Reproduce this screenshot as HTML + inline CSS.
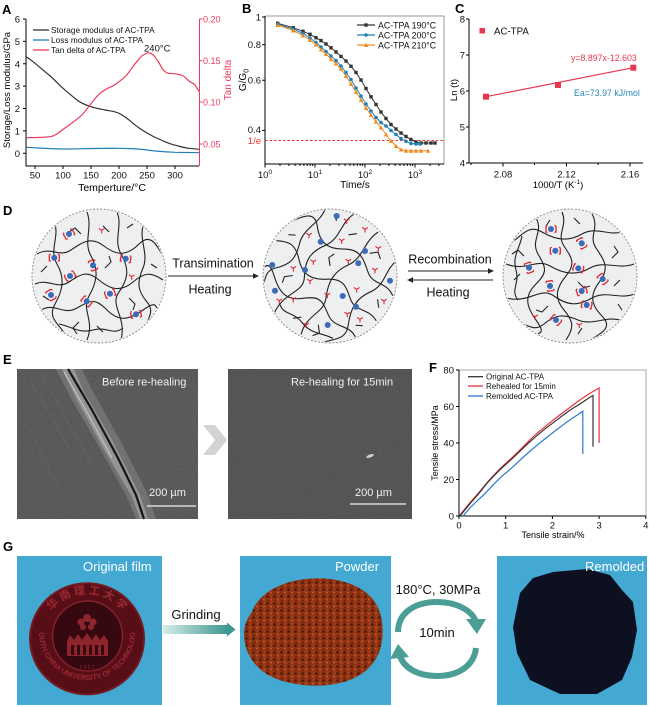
<!DOCTYPE html>
<html><head><meta charset="utf-8"><style>
html,body{margin:0;padding:0;background:#fff;}
svg{display:block;font-family:"Liberation Sans","Noto Sans CJK SC",sans-serif;}
</style></head><body>
<svg width="649" height="707" viewBox="0 0 649 707" xmlns="http://www.w3.org/2000/svg">
<defs>
<marker id="mk" markerWidth="4" markerHeight="4" refX="2" refY="2" markerUnits="userSpaceOnUse"><rect x="0.3" y="0.3" width="3.4" height="3.4" fill="#333"/></marker>
<marker id="mb" markerWidth="4" markerHeight="4" refX="2" refY="2" markerUnits="userSpaceOnUse"><circle cx="2" cy="2" r="1.8" fill="#1f7fb5"/></marker>
<marker id="mo" markerWidth="5" markerHeight="5" refX="2.5" refY="2.5" markerUnits="userSpaceOnUse"><path d="M2.5,0.3 L4.7,4.5 L0.3,4.5Z" fill="#f08a1e"/></marker>
<clipPath id="cc"><circle r="66"/></clipPath>
<filter id="sem" x="0" y="0" width="100%" height="100%"><feTurbulence type="fractalNoise" baseFrequency="0.75" numOctaves="3" seed="2"/><feColorMatrix type="matrix" values="0.33 0.33 0.33 0 0  0.33 0.33 0.33 0 0  0.33 0.33 0.33 0 0  0 0 0 0 1"/></filter>
<pattern id="dots" width="7" height="7" patternUnits="userSpaceOnUse"><rect width="7" height="7" fill="#8f3315"/><circle cx="1.5" cy="1.5" r="1.3" fill="#4a1709"/><circle cx="5" cy="4.5" r="1.1" fill="#c4521f"/><circle cx="2" cy="5.5" r="0.8" fill="#5a1d0b"/><circle cx="5.5" cy="1" r="0.7" fill="#b84a1c"/></pattern>
<linearGradient id="ga" x1="0" x2="1" y1="0" y2="0"><stop offset="0" stop-color="#d6ecea"/><stop offset="1" stop-color="#3d978f"/></linearGradient>
<g id="net" fill="none" stroke="#222" stroke-width="1.1">
<path d="M-62,-22 C-48,-30 -40,-18 -28,-26 S-8,-40 5,-30 S28,-20 40,-32 S58,-30 64,-20"/>
<path d="M-64,8 C-50,2 -42,14 -30,6 S-12,-6 0,4 S22,16 34,6 S52,-4 64,4"/>
<path d="M-58,34 C-44,26 -36,40 -22,32 S-4,22 8,34 S30,44 44,34 S56,30 60,36"/>
<path d="M-44,-52 C-40,-38 -50,-26 -42,-12 S-36,14 -44,28 S-40,48 -34,58"/>
<path d="M-12,-64 C-6,-48 -16,-34 -8,-20 S-2,6 -10,20 S-4,44 -12,64"/>
<path d="M18,-64 C24,-50 14,-36 22,-22 S30,2 20,16 S28,40 22,64"/>
<path d="M44,-50 C40,-36 50,-22 44,-8 S38,14 48,26 S44,44 50,52"/>
<path d="M-40,48 C-28,50 -20,58 -6,54 S14,60 24,52"/>
<path d="M-30,-44 L-24,-48 L-18,-42 M-52,-10 L-58,-4 M6,-8 L12,-14 L10,-20 M30,22 L36,28 L34,34 M-20,46 L-26,52 L-22,58 M52,-12 L58,-8 M-2,50 L4,56 M-56,20 L-50,24 M28,-48 L34,-52 M10,-44 L4,-50"/>
</g>
<g id="xl"><path d="M-5,-3 L-3.5,-3.5 M-5,-3 L-5,3 L-3.5,3.5 M5,-3 L3.5,-3.5 M5,-3 L5,3 L3.5,3.5" stroke="#e0262f" stroke-width="1.3" fill="none"/><circle r="3" fill="#3a6cb8"/></g>
<g id="ry" fill="none" stroke="#e0262f" stroke-width="1.1"><path d="M0,0 L0,3.2 M0,0 L-2.8,-1.8 M0,0 L2.8,-1.8"/></g>
</defs>
<rect width="649" height="707" fill="#fff"/>

<!-- ============ PANEL A ============ -->
<text x="2" y="14" font-size="13" font-weight="bold">A</text>
<g stroke="#000" stroke-width="1" fill="none">
<path d="M26,19 L26,166 L199,166"/>
<path d="M23,19 H26 M23,41.4 H26 M23,63.8 H26 M23,86.1 H26 M23,108.5 H26 M23,130.9 H26 M23,153.3 H26"/>
<path d="M35,166 V169 M63,166 V169 M91,166 V169 M119,166 V169 M147,166 V169 M175,166 V169"/>
</g>
<g stroke="#ec3a5e" stroke-width="1" fill="none"><path d="M199.5,19 V166"/><path d="M199.5,19 H202.5 M199.5,60.7 H202.5 M199.5,102 H202.5 M199.5,144 H202.5"/></g>
<g font-size="9.5" text-anchor="end" fill="#111">
<text x="20" y="22.5">6</text><text x="20" y="44.9">5</text><text x="20" y="67.3">4</text><text x="20" y="89.6">3</text><text x="20" y="112">2</text><text x="20" y="134.4">1</text><text x="20" y="156.8">0</text>
</g>
<g font-size="9" fill="#ec3a5e"><text x="203" y="22.5">0.20</text><text x="203" y="64.2">0.15</text><text x="203" y="105.5">0.10</text><text x="203" y="147.5">0.05</text></g>
<g font-size="9.5" text-anchor="middle" fill="#111"><text x="35" y="178.5">50</text><text x="63" y="178.5">100</text><text x="91" y="178.5">150</text><text x="119" y="178.5">200</text><text x="147" y="178.5">250</text><text x="175" y="178.5">300</text></g>
<text x="112" y="191" font-size="10.5" text-anchor="middle">Temperture/°C</text>
<text transform="translate(10,90) rotate(-90)" font-size="9.5" text-anchor="middle">Storage/Loss modulus/GPa</text>
<text transform="translate(231,80) rotate(-90)" font-size="10" text-anchor="middle" fill="#ec3a5e">Tan delta</text>
<g stroke-width="1.2" fill="none">
<path stroke="#333" d="M26,56.7 C30,59 32,61 35,63.3 S44,71 49,75 S58,84 63,88.3 S72,96 77,100 S86,105 91,106.7 S100,109 105,110 S114,111 119,113.3 S128,119 133,123.3 S142,130 147,133 S156,138 161,140 S170,144 175,145.2 S185,148 189,148.3 L199,149.3"/>
<path stroke="#1f7fb5" d="M26,147.3 C40,148 50,149 63,149 S105,148 119,148.3 S140,149 147,150 S168,152 175,152.3 L199,152.7"/>
<path stroke="#ec3a5e" d="M26,137.7 C36,137.5 44,137.5 50,136.7 S62,130 66.7,126.7 S76,120 80,116.7 S87,109 90,105 S97,96 100,93.3 S106,89 110,87.3 S116,84 119,81.7 S124,78 126.7,75 S133,66 136.7,61.7 S141,56 143.3,55 S147,52.5 148.3,52.7 S151,53 153.3,55 S156,59 158.3,61.7 S161,68 163.3,70 S166,73 168.3,73.3 S174,73.5 176.7,74 S181,75 183.3,76 S187,80 190,81.7 S194,84 195,85 L199.3,91.7"/>
</g>
<g stroke-width="1.3"><path d="M33,30 H49" stroke="#333"/><path d="M33,40 H49" stroke="#1f7fb5"/><path d="M33,50 H49" stroke="#ec3a5e"/></g>
<g font-size="8.3" fill="#111"><text x="51" y="33">Storage modulus of AC-TPA</text><text x="51" y="43">Loss modulus of AC-TPA</text><text x="51" y="53">Tan delta of AC-TPA</text></g>
<text x="144" y="51.5" font-size="9.5" fill="#111">240°C</text>

<!-- ============ PANEL B ============ -->
<text x="242" y="13" font-size="13" font-weight="bold">B</text>
<path d="M265,16 H444 V164" stroke="#999" stroke-width="1" fill="none"/>
<g stroke="#000" stroke-width="1" fill="none">
<path d="M265,16 V164 H444"/>
<path d="M262,17 H265 M262,44.6 H265 M262,80.2 H265 M262,130.4 H265"/>
<path d="M265,164 V167.5 M315,164 V167.5 M365,164 V167.5 M415,164 V167.5"/>
<path d="M280,164v2 M288.9,164v2 M295.1,164v2 M300,164v2 M303.9,164v2 M307.3,164v2 M310.2,164v2 M312.7,164v2 M330,164v2 M338.9,164v2 M345.1,164v2 M350,164v2 M353.9,164v2 M357.3,164v2 M360.2,164v2 M362.7,164v2 M380,164v2 M388.9,164v2 M395.1,164v2 M400,164v2 M403.9,164v2 M407.3,164v2 M410.2,164v2 M412.7,164v2 M430,164v2 M438.9,164v2"/>
</g>
<path d="M265,140.5 H444" stroke="#ee3030" stroke-width="1" stroke-dasharray="2.5,2" fill="none"/>
<g font-size="9.5" text-anchor="end" fill="#111"><text x="261" y="20.5">1</text><text x="261" y="48">0.8</text><text x="261" y="83.6">0.6</text><text x="261" y="133">0.4</text></g>
<text x="261" y="144" font-size="9.5" text-anchor="end" fill="#ee3030">1/e</text>
<g font-size="9.5" text-anchor="middle" fill="#111">
<text x="265" y="178">10<tspan font-size="6.5" dy="-4">0</tspan></text>
<text x="315" y="178">10<tspan font-size="6.5" dy="-4">1</tspan></text>
<text x="365" y="178">10<tspan font-size="6.5" dy="-4">2</tspan></text>
<text x="415" y="178">10<tspan font-size="6.5" dy="-4">3</tspan></text>
</g>
<text x="355" y="188" font-size="10" text-anchor="middle">Time/s</text>
<text transform="translate(246,80) rotate(-90)" font-size="10" text-anchor="middle">G/G<tspan font-size="7" dy="2.5">0</tspan></text>
<polyline fill="none" stroke="#333" stroke-width="1" marker-start="url(#mk)" marker-mid="url(#mk)" marker-end="url(#mk)" points="277.7,23.3 293.3,27.7 303,31.3 310,34.3 316,37.7 321,40.6 326,44 331,47.8 336,52 341,56.4 346,61 351,66.3 356,72.5 361,80 366,88.5 371,96.8 376,104.5 381,112 386,118.5 391,124.5 396,129 401,133 406,136.5 411,139.5 416,142 421,143 426,143 431,143 435,143"/>
<polyline fill="none" stroke="#1f7fb5" stroke-width="1" marker-start="url(#mb)" marker-mid="url(#mb)" marker-end="url(#mb)" points="277.7,24.3 293.3,29 303,33.5 310,38 316,42.5 321,47 326,51.5 331,56 336,60.5 341,66 346,72.5 351,79.5 356,88 361,96 366,104 371,111 376,117.5 381,122.5 386,126 391,130.5 396,134.5 401,138.5 406,141.3 411,143.5 416,144 420,144"/>
<polyline fill="none" stroke="#f08a1e" stroke-width="1" marker-start="url(#mo)" marker-mid="url(#mo)" marker-end="url(#mo)" points="277.7,25 293.3,30.5 303,35.5 310,40 316,44.5 321,49.5 326,54 331,59 336,63.5 341,69 346,76 351,84 356,92 361,100 366,108 371,115 376,121.5 381,127.5 386,134.5 391,141 396,146 401,149.5 406,150.7 411,150.7 416,150.7 421,150.7 428,150.7"/>
<g stroke-width="1.2"><path d="M357,25 H375" stroke="#333"/><path d="M357,35 H375" stroke="#1f7fb5"/><path d="M357,45 H375" stroke="#f08a1e"/></g>
<rect x="364.3" y="23.3" width="3.4" height="3.4" fill="#333"/><circle cx="366" cy="35" r="1.8" fill="#1f7fb5"/><path d="M366,42.8 L368.2,47 L363.8,47Z" fill="#f08a1e"/>
<g font-size="8.8" fill="#111"><text x="378" y="28.3">AC-TPA 190°C</text><text x="378" y="38.3">AC-TPA 200°C</text><text x="378" y="48.3">AC-TPA 210°C</text></g>

<!-- ============ PANEL C ============ -->
<text x="455" y="13" font-size="13" font-weight="bold">C</text>
<g stroke="#000" stroke-width="1" fill="none">
<path d="M469,19 V163 H643"/>
<path d="M466,19 H469 M466,55 H469 M466,91 H469 M466,127 H469 M466,163 H469"/>
<path d="M471,163 v2 M503,163 v3.5 M534.5,163 v2 M566.5,163 v3.5 M598,163 v2 M630,163 v3.5"/>
</g>
<g font-size="9.5" text-anchor="end" fill="#111"><text x="465" y="22.5">8</text><text x="465" y="58.5">7</text><text x="465" y="94.5">6</text><text x="465" y="130.5">5</text><text x="465" y="166.5">4</text></g>
<g font-size="9.5" text-anchor="middle" fill="#111"><text x="503" y="177.5">2.08</text><text x="566.5" y="177.5">2.12</text><text x="630" y="177.5">2.16</text></g>
<text x="558" y="188" font-size="9.5" text-anchor="middle">1000/T  (K<tspan font-size="6.5" dy="-4">-1</tspan><tspan dy="4">)</tspan></text>
<text transform="translate(457,90) rotate(-90)" font-size="9.5" text-anchor="middle">Ln (t)</text>
<path d="M486,96.7 L633.3,67.7" stroke="#e8384f" stroke-width="1.2"/>
<g fill="#e8384f"><rect x="483" y="93.7" width="6" height="6"/><rect x="555" y="82" width="6" height="6"/><rect x="630.3" y="64.7" width="6" height="6"/><rect x="479.5" y="28" width="5.5" height="5.5"/></g>
<text x="494" y="34.5" font-size="9.7" fill="#111">AC-TPA</text>
<text x="571" y="61" font-size="8.8" fill="#e8384f">y=8.897x-12.603</text>
<text x="574" y="96" font-size="8.8" fill="#2a86b8">Ea=73.97 kJ/mol</text>

<!-- ============ PANEL D ============ -->
<text x="3" y="215" font-size="13" font-weight="bold">D</text>
<g transform="translate(99,276)">
<circle r="67" fill="#eeeff1" stroke="#8a8a8a" stroke-width="0.9" stroke-dasharray="2,1.6"/>
<g clip-path="url(#cc)"><use href="#net"/></g>
</g>
<g transform="translate(330,276)">
<circle r="67" fill="#eeeff1" stroke="#8a8a8a" stroke-width="0.9" stroke-dasharray="2,1.6"/>
<g clip-path="url(#cc)"><g transform="rotate(37) scale(-1,1)"><use href="#net"/></g></g>
</g>
<g transform="translate(570,276)">
<circle r="67" fill="#eeeff1" stroke="#8a8a8a" stroke-width="0.9" stroke-dasharray="2,1.6"/>
<g clip-path="url(#cc)"><g transform="rotate(90)"><use href="#net"/></g></g>
</g>
<use href="#xl" transform="translate(69,234) rotate(-30)"/>
<use href="#xl" transform="translate(54.3,257.7)"/>
<use href="#xl" transform="translate(125.7,258.7) rotate(10)"/>
<use href="#xl" transform="translate(93,265.3) rotate(70)"/>
<use href="#xl" transform="translate(70,276) rotate(-30)"/>
<use href="#xl" transform="translate(51,295) rotate(60)"/>
<use href="#xl" transform="translate(110,293.7) rotate(-20)"/>
<use href="#xl" transform="translate(86.7,301.3) rotate(40)"/>
<use href="#xl" transform="translate(136,314.3) rotate(-10)"/>
<use href="#ry" transform="translate(101.7,230.3)"/>
<use href="#ry" transform="translate(131.7,276.7)"/>
<g fill="#3a6cb8">
<circle cx="336.7" cy="216" r="3"/><circle cx="320.7" cy="241.7" r="3"/><circle cx="365" cy="251" r="3"/><circle cx="272.3" cy="265" r="3"/><circle cx="305" cy="270" r="3"/><circle cx="358.3" cy="263.3" r="3"/><circle cx="390" cy="280.7" r="3"/><circle cx="275" cy="290.7" r="3"/><circle cx="342.7" cy="296" r="3"/><circle cx="356" cy="306.7" r="3"/><circle cx="327.7" cy="325" r="3"/>
</g>
<use href="#ry" transform="translate(346.7,220.7)"/><use href="#ry" transform="translate(309,235)"/><use href="#ry" transform="translate(365,229.3)"/><use href="#ry" transform="translate(341.7,240.7)"/><use href="#ry" transform="translate(378.3,248.3)"/><use href="#ry" transform="translate(313.3,261.7)"/><use href="#ry" transform="translate(348.3,261)"/><use href="#ry" transform="translate(293.3,268.3)"/><use href="#ry" transform="translate(375,270)"/><use href="#ry" transform="translate(310,281)"/><use href="#ry" transform="translate(356.7,289.3)"/><use href="#ry" transform="translate(327.3,295)"/><use href="#ry" transform="translate(279.3,300.7)"/><use href="#ry" transform="translate(293.3,299.3)"/><use href="#ry" transform="translate(384,301)"/><use href="#ry" transform="translate(347.3,314)"/><use href="#ry" transform="translate(360,319.3)"/><use href="#ry" transform="translate(306,325)"/>
<use href="#xl" transform="translate(551,229)"/>
<use href="#xl" transform="translate(581.7,243.3) rotate(60)"/>
<use href="#xl" transform="translate(555.3,250.7)"/>
<use href="#xl" transform="translate(578.3,268.3) rotate(20)"/>
<use href="#xl" transform="translate(529,267.7) rotate(70)"/>
<use href="#xl" transform="translate(602.7,279) rotate(50)"/>
<use href="#xl" transform="translate(550,286) rotate(80)"/>
<use href="#xl" transform="translate(581.7,291) rotate(-20)"/>
<use href="#xl" transform="translate(586.7,305) rotate(10)"/>
<use href="#xl" transform="translate(556,320) rotate(40)"/>
<use href="#ry" transform="translate(535,316.7)"/>
<use href="#ry" transform="translate(579.3,325)"/>
<g font-size="12.5" text-anchor="middle" fill="#111">
<text x="213" y="267.5">Transimination</text>
<text x="210" y="293.5">Heating</text>
<text x="450" y="263.5">Recombination</text>
<text x="448" y="296.5">Heating</text>
</g>
<path d="M168,276 H255" stroke="#222" stroke-width="1"/><path d="M259,276 L253,273.3 L253,278.7Z" fill="#222"/>
<path d="M408,271 H490" stroke="#222" stroke-width="1"/><path d="M494,271 L488,268.3 L488,273.7Z" fill="#222"/>
<path d="M411,280 H493" stroke="#222" stroke-width="1"/><path d="M407,280 L413,277.3 L413,282.7Z" fill="#222"/>

<!-- ============ PANEL E ============ -->
<text x="3" y="364" font-size="13" font-weight="bold">E</text>
<rect x="17" y="369" width="181" height="150" fill="#3a3a3a"/>
<rect x="17" y="369" width="181" height="150" filter="url(#sem)" opacity="0.25"/>
<rect x="228" y="369" width="184" height="150" fill="#393939"/>
<rect x="228" y="369" width="184" height="150" filter="url(#sem)" opacity="0.22"/>
<path d="M56,369 L82,369 L92,390 L120,440 L148,495 L156,519 L136,519 L126,495 L98,445 L72,400Z" fill="#8a8a8a" opacity="0.5"/>
<path d="M62,369 L74,369 L84,392 L112,440 L140,495 L148,519 L140,519 L132,497 L102,446 L76,398Z" fill="#b5b5b5" opacity="0.5"/>
<path d="M68,369 L92,410 L118,458 L136,495 L144,519" stroke="#151515" stroke-width="2.2" fill="none"/>
<path d="M64,372 L88,414 L112,458" stroke="#e0e0e0" stroke-width="1" fill="none" opacity="0.7"/>
<path d="M30,380 L70,450 M40,372 L95,470 M25,420 L60,490" stroke="#6a6a6a" stroke-width="0.8" fill="none" opacity="0.6"/>
<path d="M203,425 L215,425 L227,440 L215,455 L203,455 L215,440Z" fill="#d3d3d3"/>
<g font-size="11" fill="#f2f2f2">
<text x="102" y="385.5">Before re-healing</text>
<text x="291" y="385.5">Re-healing for 15min</text>
<text x="149" y="496">200 µm</text>
<text x="355" y="496">200 µm</text>
</g>
<path d="M147,506 H196" stroke="#d8d8d8" stroke-width="1.5"/>
<path d="M350,504 H406" stroke="#d8d8d8" stroke-width="1.5"/>
<ellipse cx="370" cy="456" rx="4" ry="1.5" fill="#cfcfcf" transform="rotate(-20 370 456)"/>

<!-- ============ PANEL F ============ -->
<text x="429" y="372" font-size="13" font-weight="bold">F</text>
<rect x="459" y="370" width="187" height="146" fill="none" stroke="#aaa" stroke-width="1"/>
<g stroke="#000" stroke-width="1" fill="none">
<path d="M459,370 V516 H646"/>
<path d="M456,370 H459 M456,406.5 H459 M456,443 H459 M456,479.5 H459 M456,516 H459"/>
<path d="M459,516 v3 M505.7,516 v3 M552.4,516 v3 M599.1,516 v3 M645.8,516 v3"/>
</g>
<g font-size="9.5" text-anchor="end" fill="#111"><text x="454" y="373.5">80</text><text x="454" y="410">60</text><text x="454" y="446.5">40</text><text x="454" y="483">20</text><text x="454" y="519.5">0</text></g>
<g font-size="9.5" text-anchor="middle" fill="#111"><text x="459" y="528.5">0</text><text x="505.7" y="528.5">1</text><text x="552.4" y="528.5">2</text><text x="599.1" y="528.5">3</text><text x="645.8" y="528.5">4</text></g>
<text x="553" y="538" font-size="9" text-anchor="middle">Tensile strain/%</text>
<text transform="translate(438,443) rotate(-90)" font-size="9" text-anchor="middle">Tensile stress/MPa</text>
<g fill="none" stroke-width="1.2">
<path stroke="#e8303a" d="M460,515 C470,502 478,494 482.4,488.4 S498,470 505.7,463.4 S522,448 529,440.8 S546,426 552.4,420.7 S568,409 575.8,403 S592,392 599.1,387.9 V443"/>
<path stroke="#333" d="M460,516 C470,503 478,495 482.4,489 S498,471 505.7,464.5 S522,449 529,442.6 S546,428 552.4,423.3 S568,411 575.8,406.5 S588,398 593,395.5 V446.6"/>
<path stroke="#2b7ad0" d="M463,516 C472,505 478,500 482.4,496 S498,479 505.7,473 S522,458 529,452 S546,438 552.4,433 S568,421 575.8,416 L582.8,411.2 V454"/>
</g>
<g stroke-width="1.3"><path d="M468,376.7 H483" stroke="#333"/><path d="M468,386 H483" stroke="#e8303a"/><path d="M468,396 H483" stroke="#2b7ad0"/></g>
<g font-size="8" fill="#111"><text x="486" y="379.5">Original AC-TPA</text><text x="486" y="389">Rehealed for 15min</text><text x="486" y="399">Remolded AC-TPA</text></g>

<!-- ============ PANEL G ============ -->
<text x="3" y="551" font-size="13" font-weight="bold">G</text>
<rect x="17" y="556" width="145" height="149" fill="#43a8d2"/>
<rect x="240" y="556" width="151" height="149" fill="#43a8d2"/>
<rect x="497" y="556" width="150" height="149" fill="#43a8d2"/>
<ellipse cx="87" cy="638.8" rx="57" ry="55.5" fill="#580e16" stroke="#761a22" stroke-width="2"/>
<circle cx="87.5" cy="636" r="35" fill="#360910" stroke="#84212a" stroke-width="1.5"/>
<path id="arcTop" d="M41,640 A46,46 0 0 1 133,640" fill="none"/>
<path id="arcBot" d="M39,632 A48,48 0 0 0 135,632" fill="none"/>
<text font-size="11" fill="#9a2a33" font-weight="bold"><textPath href="#arcTop" startOffset="50%" text-anchor="middle">华 南 理 工 大 学</textPath></text>
<text font-size="7.2" fill="#9a2a33" font-weight="bold"><textPath href="#arcBot" startOffset="50%" text-anchor="middle">SOUTH CHINA UNIVERSITY OF TECHNOLOGY</textPath></text>
<g fill="#8e252c"><rect x="67" y="641" width="41" height="15"/><path d="M67,641 L70,635 L74,640 L78,634 L82,640 L87,633 L92,640 L96,634 L100,640 L104,635 L108,641Z"/></g>
<g fill="#360910"><rect x="71" y="645" width="3" height="10"/><rect x="77" y="645" width="3" height="10"/><rect x="83" y="645" width="3" height="10"/><rect x="89" y="645" width="3" height="10"/><rect x="95" y="645" width="3" height="10"/><rect x="101" y="645" width="3" height="10"/></g>
<g fill="#8e252c"><circle cx="87" cy="618" r="4"/><circle cx="81" cy="622" r="3.5"/><circle cx="93" cy="622" r="3.5"/><circle cx="83" cy="627" r="3"/><circle cx="91" cy="627" r="3"/></g>
<text x="87" y="669" font-size="5" fill="#8e252c" text-anchor="middle">1 9 5 2</text>
<path d="M252,612 C258,594 280,582 305,579 C330,576 356,582 370,596 C382,608 385,628 381,646 C377,664 362,678 340,683 C318,688 290,686 270,676 C252,666 244,650 244,634 C244,626 247,618 252,612Z" fill="url(#dots)"/>
<path d="M520,593 L533,578 L553,572 L587,569 L610,575 L622,590 L633,602 L637,630 L632,657 L622,680 L597,694 L560,694 L530,680 L517,653 L513,627 Z" fill="#0c1020"/>
<g font-size="13" fill="#fff"><text x="83" y="571">Original film</text><text x="335" y="571">Powder</text><text x="585" y="571">Remolded</text></g>
<text x="196" y="619" font-size="13" text-anchor="middle" fill="#111">Grinding</text>
<rect x="163" y="625" width="65" height="9" fill="url(#ga)"/>
<path d="M227,622.5 L235.5,629.5 L227,636.5Z" fill="#3d978f"/>
<text x="438" y="594" font-size="13" text-anchor="middle" fill="#111">180°C, 30MPa</text>
<text x="437" y="637" font-size="13" text-anchor="middle" fill="#111">10min</text>
<g fill="none" stroke="#4a9e96" stroke-width="6">
<path d="M398,632 C398,612 416,602 437,602 C456,602 472,610 476,622"/>
<path d="M476,648 C474,666 458,676 437,676 C418,676 404,668 400,656"/>
</g>
<path d="M466,619 L486,619 L477,634Z" fill="#4a9e96"/>
<path d="M390,659 L409,657 L398,644Z" fill="#4a9e96"/>
</svg>
</body></html>
